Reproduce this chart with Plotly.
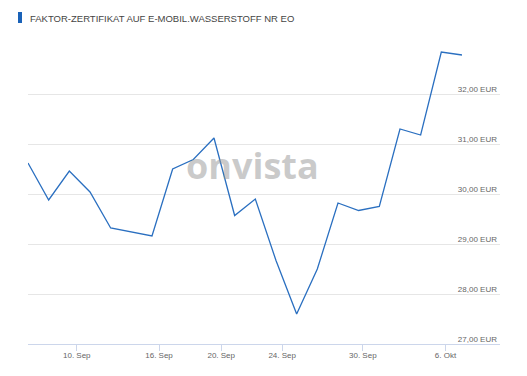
import plotly.graph_objects as go

# trading-day index of each observation (index 5 has no observation)
day_index = [0, 1, 2, 3, 4, 6, 7, 8, 9, 10, 11, 12, 13, 14, 15, 16, 17, 18, 19, 20, 21]
price_eur = [30.62, 29.88, 30.46, 30.04, 29.32, 29.16, 30.50, 30.69, 31.12, 29.57,
             29.90, 28.67, 27.60, 28.50, 29.82, 29.67, 29.75, 31.30, 31.18, 32.84, 32.78]

x_tick_pos = [2.36, 6.34, 9.35, 12.3, 16.2, 20.2]
x_tick_text = ["10. Sep", "16. Sep", "20. Sep", "24. Sep", "30. Sep", "6. Okt"]

y_tick_vals = [27, 28, 29, 30, 31, 32, 33]
y_tick_text = ["27,00 EUR", "28,00 EUR", "29,00 EUR", "30,00 EUR", "31,00 EUR", "32,00 EUR", ""]

title_text = "FAKTOR-ZERTIFIKAT AUF E-MOBIL.WASSERSTOFF NR EO"

fig = go.Figure()
fig.add_trace(go.Scatter(
    x=day_index, y=price_eur, mode="lines",
    line=dict(color="#2a6fc0", width=1.3),
    hoverinfo="y",
))

# the page body has an 8px margin, so the figure is offset by 8px
fig.update_layout(
    width=519, height=368,
    margin=dict(l=20, r=27, t=36, b=32),
    paper_bgcolor="white", plot_bgcolor="white",
    showlegend=False,
    xaxis=dict(
        range=[0, 22.84], automargin=False,
        tickvals=x_tick_pos, ticktext=x_tick_text,
        showgrid=False, zeroline=False,
        showline=True, linecolor="#ccd6eb", linewidth=1,
        ticks="outside", ticklen=6, tickcolor="#ccd6eb", tickwidth=1,
        ticklabelstandoff=-3,
        tickfont=dict(family="Liberation Sans, Arial, sans-serif", size=8, color="#666666"),
    ),
    yaxis=dict(
        range=[27, 33], side="right", automargin=False,
        tickvals=y_tick_vals, ticktext=y_tick_text,
        ticklabelposition="inside", ticklabelshift=-5,
        showgrid=True, gridcolor="#e6e6e6", gridwidth=1,
        zeroline=False, showline=False, ticks="",
        tickfont=dict(family="Liberation Sans, Arial, sans-serif", size=8, color="#666666"),
    ),
    annotations=[
        dict(text="onvista", xref="paper", yref="paper", x=0.475, y=0.595,
             showarrow=False, xanchor="center", yanchor="middle",
             font=dict(family="Open Sans, sans-serif", size=36, color="rgba(150,150,150,0.5)", weight="bold")),
        dict(text=title_text, xref="paper", yref="paper", x=0, y=1.0,
             xanchor="left", yanchor="bottom", showarrow=False, yshift=18, xshift=0,
             font=dict(family="Liberation Sans, Arial, sans-serif", size=9.5, color="#444444")),
    ],
)

# blue marker bar next to the title
fig.add_shape(type="rect", xref="paper", yref="paper",
              xsizemode="pixel", ysizemode="pixel", xanchor=0, yanchor=1,
              x0=-10, x1=-6, y0=21, y1=32,
              line=dict(width=0), fillcolor="#1a62b8")

fig.write_html("out.html")
